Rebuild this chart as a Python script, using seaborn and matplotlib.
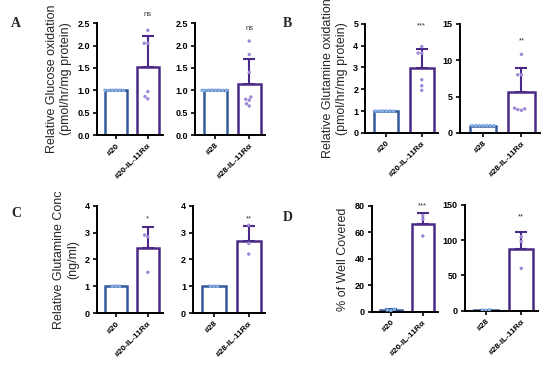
import numpy as np
import pandas as pd
import seaborn as sns
import matplotlib.pyplot as plt

# --- DATA ---
glc_20 = [1.0, 1.0, 1.0, 1.0, 1.0, 1.0]
glc_20_il = [2.34, 2.05, 2.05, 0.97, 0.81, 0.86]
glc_28 = [1.0, 1.0, 1.0, 1.0, 1.0, 1.0, 1.0, 1.0]
glc_28_il = [2.1, 1.8, 1.4, 0.8, 0.85, 0.78, 0.65, 0.7]

gln_ox_20 = [1.0, 1.0, 1.0, 1.0, 1.0, 1.0]
gln_ox_20_il = [3.96, 3.66, 3.66, 2.44, 2.16, 1.95]
gln_ox_28 = [1.0, 1.0, 1.0, 1.0, 1.0, 1.0, 1.0]
gln_ox_28_il = [10.8, 8.0, 8.0, 3.4, 3.2, 3.1, 3.3]

gln_conc_20 = [1.0, 1.0, 1.0]
gln_conc_20_il = [2.91, 2.85, 1.52]
gln_conc_28 = [1.0, 1.0, 1.0]
gln_conc_28_il = [3.28, 2.6, 2.2]

well_20 = [2.0, 1.0, 1.5]
well_20_il = [72.7, 70.0, 57.3]
well_28 = [1.0, 0.5, 1.5]
well_28_il = [105.0, 98.0, 60.0]

labels_20 = ['#20', '#20-IL-11R\u03b1']
labels_28 = ['#28', '#28-IL-11R\u03b1']
sig = ['ns', 'ns', '***', '**', '*', '**', '***', '**']

ctrl_edge, ctrl_pt = '#34599a', '#86aee6'
il_edge, il_pt = '#4a2a86', '#a08ad8'

sns.set_theme(style="ticks")
plt.rcParams['font.family'] = ['Liberation Sans', 'DejaVu Sans']

fig = plt.figure(figsize=(5.5, 3.67), dpi=100)


def draw(rect, labels, ctrl, treat, yticks, fmt, sig_txt, sig_y):
    ax = fig.add_axes(rect)
    df = pd.DataFrame({'group': [labels[0]] * len(ctrl) + [labels[1]] * len(treat),
                       'value': list(ctrl) + list(treat)})
    sns.barplot(data=df, x='group', y='value', order=labels, errorbar=None,
                width=0.68, fill=False, ax=ax)
    for patch, ec in zip(ax.patches, [ctrl_edge, il_edge]):
        patch.set_facecolor('white')
        patch.set_fill(True)
        patch.set_edgecolor(ec)
        patch.set_linewidth(1.8)
    sns.swarmplot(data=df, x='group', y='value', order=labels, hue='group',
                  hue_order=labels, palette=[ctrl_pt, il_pt], size=2.5,
                  legend=False, ax=ax, zorder=3)
    for i, (vals, ec) in enumerate([(ctrl, ctrl_edge), (treat, il_edge)]):
        m, sd = np.mean(vals), np.std(vals, ddof=1)
        ax.errorbar([i], [m], yerr=[[0], [sd]], color=ec, capsize=4,
                    elinewidth=1.5, capthick=1.5, zorder=2)
    ax.text(1, sig_y, sig_txt, ha='center', va='bottom', fontsize=5.5,
            color='#333333', clip_on=False)
    ax.set_xlim(-0.6, 1.47)
    ax.set_ylim(0, yticks[-1])
    ax.set_yticks(yticks)
    ax.set_yticklabels([fmt.format(t) for t in yticks], fontsize=6.5,
                       fontweight='bold')
    ax.set_xticks([0, 1])
    ax.set_xticklabels(labels, rotation=45, ha='right', rotation_mode='anchor',
                       fontsize=6, fontweight='bold')
    ax.set_xlabel('')
    ax.set_ylabel('')
    sns.despine(ax=ax)
    for s in ['left', 'bottom']:
        ax.spines[s].set_linewidth(1.4)
        ax.spines[s].set_color('black')
    ax.tick_params(axis='both', length=3, width=1.2, pad=2, colors='black')
    return ax


axA1 = draw([0.176, 0.632, 0.12, 0.305], labels_20, glc_20, glc_20_il,
            [0, 0.5, 1.0, 1.5, 2.0, 2.5], '{:.1f}', sig[0], 2.62)
draw([0.355, 0.632, 0.127, 0.305], labels_28, glc_28, glc_28_il,
     [0, 0.5, 1.0, 1.5, 2.0, 2.5], '{:.1f}', sig[1], 2.3)
axB1 = draw([0.664, 0.638, 0.133, 0.297], labels_20, gln_ox_20, gln_ox_20_il,
            [0, 1, 2, 3, 4, 5], '{:d}', sig[2], 4.75)
draw([0.836, 0.638, 0.145, 0.297], labels_28, gln_ox_28, gln_ox_28_il,
     [0, 5, 10, 15], '{:d}', sig[3], 12.2)
axC1 = draw([0.176, 0.147, 0.12, 0.292], labels_20, gln_conc_20, gln_conc_20_il,
            [0, 1, 2, 3, 4], '{:d}', sig[4], 3.38)
draw([0.351, 0.147, 0.131, 0.292], labels_28, gln_conc_28, gln_conc_28_il,
     [0, 1, 2, 3, 4], '{:d}', sig[5], 3.38)
axD1 = draw([0.676, 0.150, 0.12, 0.289], labels_20, well_20, well_20_il,
            [0, 20, 40, 60, 80], '{:d}', sig[6], 77)
draw([0.845, 0.153, 0.133, 0.289], labels_28, well_28, well_28_il,
     [0, 50, 100, 150], '{:d}', sig[7], 128)

axA1.set_ylabel('Relative Glucose oxidation\n(pmol/hr/mg protein)', fontsize=9)
axB1.set_ylabel('Relative Glutamine oxidation\n(pmol/hr/mg protein)', fontsize=9)
axC1.set_ylabel('Relative Glutamine Conc\n(ng/ml)', fontsize=9)
axD1.set_ylabel('% of Well Covered', fontsize=9)

for x, y, t in [(0.02, 0.955, 'A'), (0.515, 0.955, 'B'),
                (0.02, 0.435, 'C'), (0.515, 0.425, 'D')]:
    fig.text(x, y, t, fontsize=10, fontweight='bold', family='Liberation Serif',
             va='top')

fig.savefig('out.png', dpi=100)
